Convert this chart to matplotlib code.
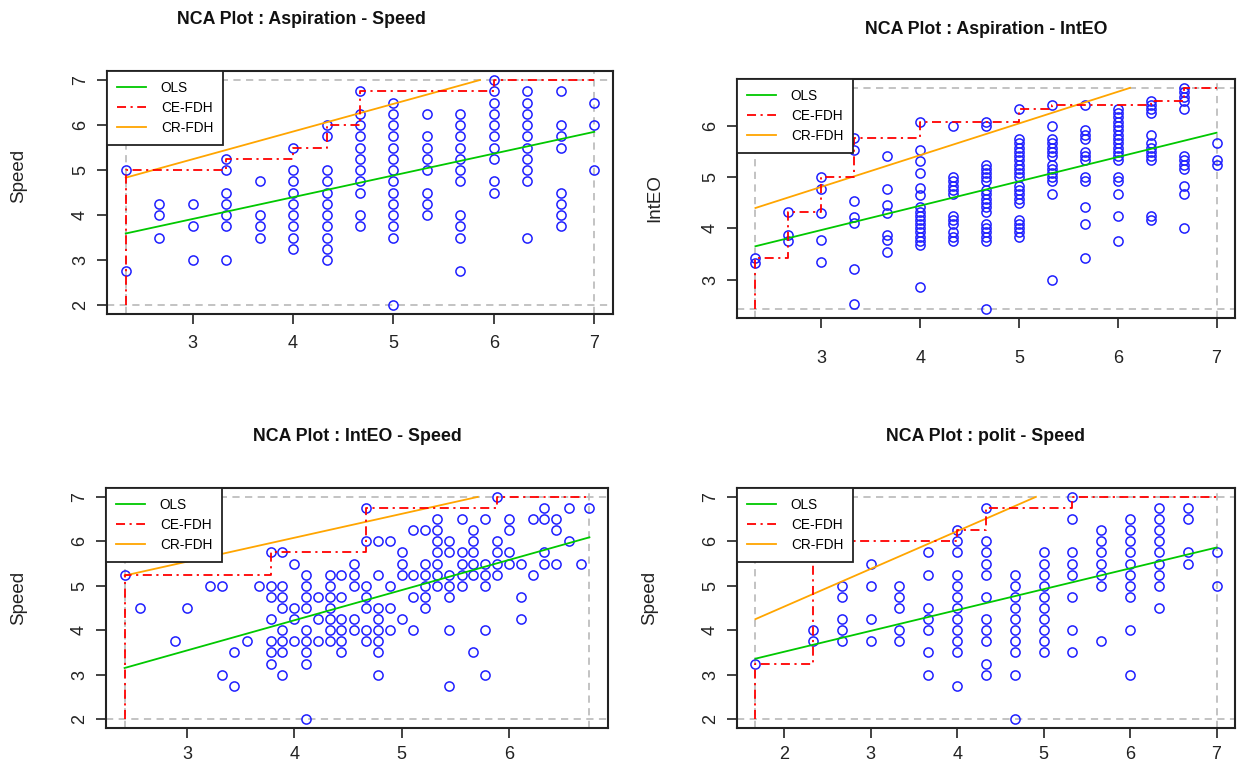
import matplotlib
matplotlib.use('Agg')
import matplotlib.pyplot as plt
from matplotlib.lines import Line2D
import numpy as np

plt.rcParams['font.family'] = ['Liberation Sans', 'DejaVu Sans']

# ---------------- DATA ----------------
# Panel 1: Aspiration (x) - Speed (y); columns x -> list of y
asp_speed = {
    2.333: [5.0, 2.75],
    2.667: [4.25, 4.0, 3.5],
    3.0: [4.25, 3.75, 3.0],
    3.333: [5.25, 5.0, 4.5, 4.25, 4.0, 3.75, 3.0],
    3.667: [4.75, 4.0, 3.75, 3.5],
    4.0: [5.5, 5.0, 4.75, 4.5, 4.25, 4.0, 3.75, 3.5, 3.25],
    4.333: [6.0, 5.75, 5.0, 4.75, 4.5, 4.25, 4.0, 3.75, 3.5, 3.25, 3.0],
    4.667: [6.75, 6.25, 6.0, 5.75, 5.5, 5.25, 5.0, 4.75, 4.5, 4.0, 3.75],
    5.0: [6.5, 6.25, 6.0, 5.75, 5.5, 5.25, 5.0, 4.75, 4.5, 4.25, 4.0, 3.75, 3.5, 2.0],
    5.333: [6.25, 5.75, 5.5, 5.25, 5.0, 4.5, 4.25, 4.0],
    5.667: [6.25, 6.0, 5.75, 5.5, 5.25, 5.0, 4.75, 4.0, 3.75, 3.5, 2.75],
    6.0: [7.0, 6.75, 6.5, 6.25, 6.0, 5.75, 5.5, 5.25, 4.75, 4.5],
    6.333: [6.75, 6.5, 6.25, 6.0, 5.75, 5.5, 5.25, 5.0, 4.75, 3.5],
    6.667: [6.75, 6.0, 5.75, 5.5, 4.5, 4.25, 4.0, 3.75],
    7.0: [6.5, 6.0, 5.0],
}

# Panel 2: Aspiration (x) - IntEO (y)
asp_inteo = {
    2.333: [3.42, 3.33],
    2.667: [4.33, 3.88, 3.76],
    3.0: [5.0, 4.77, 4.30, 3.77, 3.34],
    3.333: [5.76, 5.54, 4.54, 4.22, 4.10, 3.20, 2.52],
    3.667: [5.41, 4.78, 4.45, 4.30, 3.88, 3.77, 3.54],
    4.0: [6.08, 5.54, 5.31, 5.09, 4.79, 4.66, 4.42, 4.33, 4.25, 4.17, 4.08,
          4.0, 3.92, 3.83, 3.75, 3.67, 2.86],
    4.333: [6.0, 5.0, 4.92, 4.83, 4.75, 4.67, 4.25, 4.17, 4.08, 3.92, 3.83, 3.75],
    4.667: [6.08, 6.0, 5.25, 5.17, 5.08, 5.0, 4.92, 4.75, 4.67, 4.58, 4.5, 4.42,
            4.33, 4.08, 4.0, 3.92, 3.83, 3.75, 2.42],
    5.0: [6.33, 5.75, 5.67, 5.58, 5.5, 5.42, 5.33, 5.25, 5.17, 5.08, 5.0, 4.83,
          4.75, 4.67, 4.58, 4.5, 4.17, 4.08, 4.0, 3.92, 3.83],
    5.333: [6.42, 6.0, 5.75, 5.67, 5.58, 5.5, 5.42, 5.25, 5.17, 5.08, 5.0, 4.92,
            4.67, 3.0],
    5.667: [6.42, 5.92, 5.83, 5.75, 5.5, 5.42, 5.33, 5.0, 4.92, 4.42, 4.08, 3.42],
    6.0: [6.33, 6.25, 6.17, 6.08, 6.0, 5.92, 5.83, 5.75, 5.67, 5.58, 5.5, 5.42,
          5.33, 5.0, 4.92, 4.67, 4.25, 3.75],
    6.333: [6.5, 6.42, 6.33, 6.25, 5.83, 5.67, 5.58, 5.5, 5.42, 5.33, 4.25, 4.17],
    6.667: [6.75, 6.67, 6.58, 6.5, 6.33, 5.42, 5.33, 5.25, 5.17, 4.83, 4.67, 4.0],
    7.0: [5.67, 5.33, 5.25],
}

# Panel 3: IntEO (x) - Speed (y)
inteo_speed = {
    2.42: [5.25],
    2.56: [4.5],
    2.89: [3.75],
    3.0: [4.5],
    3.22: [5.0],
    3.33: [5.0, 3.0],
    3.44: [3.5, 2.75],
    3.56: [3.75],
    3.67: [5.0],
    3.78: [5.75, 5.0, 4.75, 4.25, 3.75, 3.5, 3.25],
    3.89: [5.75, 5.0, 4.75, 4.5, 4.0, 3.75, 3.5, 3.0],
    4.0: [5.5, 4.5, 4.25, 3.75],
    4.11: [5.25, 5.0, 4.75, 4.5, 4.0, 3.75, 3.5, 3.25, 2.0],
    4.22: [4.75, 4.25, 3.75],
    4.33: [5.25, 5.0, 4.75, 4.5, 4.25, 4.0, 3.75],
    4.44: [5.25, 4.75, 4.25, 4.0, 3.75, 3.5],
    4.56: [5.5, 5.25, 5.0, 4.25, 4.0],
    4.67: [6.75, 6.0, 5.0, 4.75, 4.5, 4.0, 3.75],
    4.78: [6.0, 5.25, 4.5, 4.25, 4.0, 3.75, 3.5, 3.0],
    4.89: [6.0, 5.0, 4.5, 4.0],
    5.0: [5.75, 5.5, 5.25, 4.25],
    5.11: [6.25, 5.25, 4.75, 4.0],
    5.22: [6.25, 5.5, 5.25, 5.0, 4.75, 4.5],
    5.33: [6.5, 6.25, 6.0, 5.75, 5.5, 5.25, 5.0],
    5.44: [6.0, 5.75, 5.25, 5.0, 4.75, 4.0, 2.75],
    5.56: [6.5, 5.75, 5.5, 5.25, 5.0],
    5.67: [6.25, 6.0, 5.75, 5.5, 5.25, 3.5],
    5.78: [6.5, 5.5, 5.25, 5.0, 4.0, 3.0],
    5.89: [7.0, 6.0, 5.75, 5.5, 5.25],
    6.0: [6.5, 6.25, 5.75, 5.5],
    6.11: [5.5, 4.75, 4.25],
    6.22: [6.5, 5.25],
    6.33: [6.75, 6.5, 5.75, 5.5],
    6.44: [6.5, 6.25, 5.5],
    6.56: [6.75, 6.0],
    6.67: [5.5],
    6.75: [6.75],
}

# Panel 4: polit (x) - Speed (y)
polit_speed = {
    1.667: [3.25],
    2.333: [6.0, 4.0, 3.75],
    2.667: [5.0, 4.75, 4.25, 4.0, 3.75],
    3.0: [5.5, 5.0, 4.25, 3.75],
    3.333: [5.0, 4.75, 4.5, 4.0, 3.75],
    3.667: [5.75, 5.25, 4.5, 4.25, 4.0, 3.5, 3.0],
    4.0: [6.25, 6.0, 5.75, 5.25, 5.0, 4.75, 4.5, 4.25, 4.0, 3.75, 3.5, 2.75],
    4.333: [6.75, 6.0, 5.75, 5.5, 5.25, 4.75, 4.25, 4.0, 3.75, 3.25, 3.0],
    4.667: [5.25, 5.0, 4.75, 4.5, 4.25, 4.0, 3.75, 3.5, 3.0, 2.0],
    5.0: [5.75, 5.5, 5.25, 5.0, 4.75, 4.5, 4.25, 4.0, 3.75, 3.5],
    5.333: [7.0, 6.5, 5.75, 5.5, 5.25, 4.75, 4.0, 3.5],
    5.667: [6.25, 6.0, 5.75, 5.5, 5.25, 5.0, 3.75],
    6.0: [6.5, 6.25, 6.0, 5.75, 5.5, 5.25, 5.0, 4.75, 4.0, 3.0],
    6.333: [6.75, 6.5, 6.25, 6.0, 5.75, 5.5, 5.25, 5.0, 4.5],
    6.667: [6.75, 6.5, 5.75, 5.5],
    7.0: [5.75, 5.0],
}

# OLS and CR-FDH lines: [intercept, slope]
ols_lines = [[2.46, 0.484], [2.54, 0.476], [1.507, 0.679], [2.578, 0.469]]
cr_lines = [[3.395, 0.615], [2.953, 0.62], [3.928, 0.538], [2.836, 0.848]]

titles = ["NCA Plot : Aspiration - Speed", "NCA Plot : Aspiration - IntEO",
          "NCA Plot : IntEO - Speed", "NCA Plot : polit - Speed"]
ylabels = ["Speed", "IntEO", "Speed", "Speed"]
xticks_list = [[3, 4, 5, 6, 7], [3, 4, 5, 6, 7], [3, 4, 5, 6], [2, 3, 4, 5, 6, 7]]
yticks_list = [[2, 3, 4, 5, 6, 7], [3, 4, 5, 6], [2, 3, 4, 5, 6, 7], [2, 3, 4, 5, 6, 7]]
legend_labels = ["OLS", "CE-FDH", "CR-FDH"]

# ---------------- LAYOUT / STYLE ----------------
W, H = 1241, 779
fig = plt.figure(figsize=(W / 100, H / 100), dpi=100)

# axes boxes in pixels: left, top, right, bottom
boxes = [(107, 71, 613, 314), (737, 79, 1235, 318),
         (106, 488, 608, 728), (737, 488, 1235, 728)]
title_xfrac = [0.385, 0.5, 0.5, 0.5]
title_off_px = [52, 49, 51, 51]
ylabel_off_px = [80, 74, 79, 79]
ylabel_yfrac = [0.57, 0.5, 0.54, 0.54]
xtick_pad = [8, 16, 6, 6]

C_PT = '#1f1fff'
C_OLS = '#00c800'
C_CE = '#ff0000'
C_CR = '#ffa500'
C_GREY = '#bebebe'
CE_DASH = (0, (5, 2.5, 1.2, 2.5))

datasets = [asp_speed, asp_inteo, inteo_speed, polit_speed]

for i, data in enumerate(datasets):
    l, t, r, b = boxes[i]
    ax = fig.add_axes([l / W, 1 - b / H, (r - l) / W, (b - t) / H])
    xs = np.concatenate([[x] * len(v) for x, v in data.items()]).astype(float)
    ys = np.concatenate([v for v in data.values()]).astype(float)
    xmin, xmax, ymin, ymax = xs.min(), xs.max(), ys.min(), ys.max()
    dx, dy = xmax - xmin, ymax - ymin
    ax.set_xlim(xmin - 0.04 * dx, xmax + 0.04 * dx)
    ax.set_ylim(ymin - 0.04 * dy, ymax + 0.04 * dy)

    # scope lines
    for yy in (ymin, ymax):
        ax.axhline(yy, color=C_GREY, lw=1.3, ls=(0, (4, 3)), zorder=1)
    for xx in (xmin, xmax):
        ax.axvline(xx, color=C_GREY, lw=1.3, ls=(0, (4, 3)), zorder=1)

    # points
    ax.plot(xs, ys, 'o', mfc='none', mec=C_PT, ms=6.6, mew=1.1, zorder=2)

    # OLS
    a, s = ols_lines[i]
    xo = np.array([xmin, xmax])
    ax.plot(xo, a + s * xo, color=C_OLS, lw=1.3, zorder=3)

    # CE-FDH step (ceiling envelope)
    keys = sorted(data.keys())
    ux = np.array(keys, dtype=float)
    umax = np.array([max(data[k]) for k in keys])
    cm = np.maximum.accumulate(umax)
    sx = [xmin]
    sy = [ymin]
    for j in range(len(ux)):
        sx += [ux[j], ux[j]]
        sy += [cm[j - 1] if j > 0 else ymin, cm[j]]
    sx.append(xmax)
    sy.append(cm[-1])
    ax.plot(sx, sy, color=C_CE, lw=1.3, ls=CE_DASH, zorder=4)

    # CR-FDH
    a, s = cr_lines[i]
    xe = min(xmax, (ymax - a) / s)
    xc = np.array([xmin, xe])
    ax.plot(xc, a + s * xc, color=C_CR, lw=1.3, zorder=3)

    # axes style
    for sp in ax.spines.values():
        sp.set_linewidth(1.5)
        sp.set_color('#222222')
    ax.set_xticks(xticks_list[i])
    ax.set_yticks(yticks_list[i])
    ax.tick_params(direction='out', length=7, width=1.2, labelsize=13,
                   top=False, right=False, colors='#222222')
    ax.tick_params(axis='x', pad=xtick_pad[i])
    ax.tick_params(axis='y', pad=6)
    for lab in ax.get_yticklabels():
        lab.set_rotation(90)
        lab.set_va('center')

    w_px = r - l
    ax.set_ylabel(ylabels[i], fontsize=13.5, color='#222222')
    ax.yaxis.set_label_coords(-ylabel_off_px[i] / w_px, ylabel_yfrac[i])

    ax.annotate(titles[i], xy=(title_xfrac[i], 1), xycoords='axes fraction',
                xytext=(0, title_off_px[i] * 0.72), textcoords='offset points',
                ha='center', va='center', fontsize=12.8, fontweight='bold',
                color='#111111')

    handles = [Line2D([], [], color=C_OLS, lw=1.3),
               Line2D([], [], color=C_CE, lw=1.3, ls=CE_DASH),
               Line2D([], [], color=C_CR, lw=1.3)]
    leg = ax.legend(handles, legend_labels, loc='upper left', bbox_to_anchor=(0, 1),
                    borderaxespad=0, fancybox=False, framealpha=1, edgecolor='#222222',
                    fontsize=9.8, handlelength=2.1, handletextpad=1.1,
                    labelspacing=0.42, borderpad=0.75)
    leg.get_frame().set_linewidth(1.3)
    leg.set_zorder(5)

fig.savefig('out.png', dpi=100, facecolor='white')
